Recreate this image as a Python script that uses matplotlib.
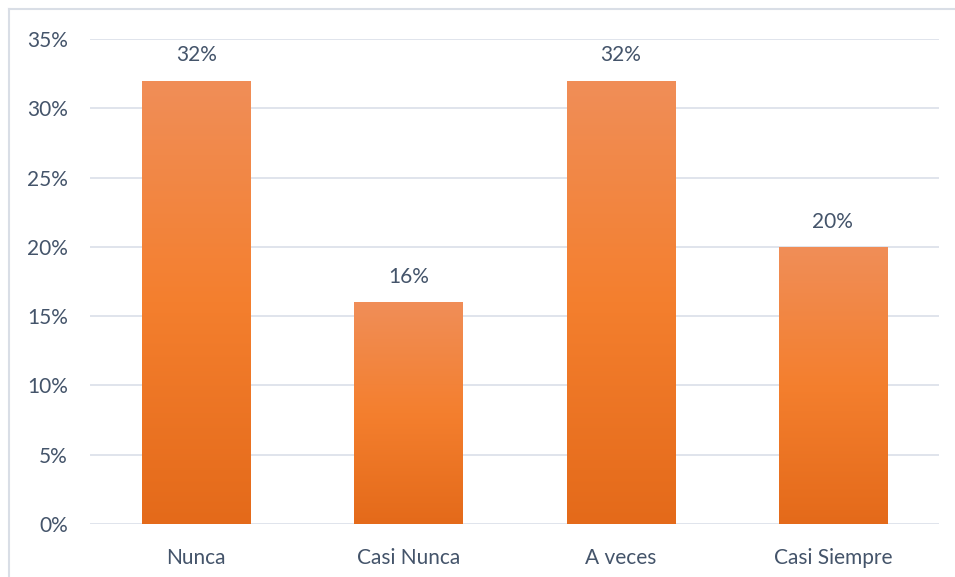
import matplotlib
matplotlib.use("Agg")
import matplotlib.pyplot as plt
import numpy as np
from matplotlib.colors import LinearSegmentedColormap
from matplotlib.lines import Line2D

categories = ["Nunca", "Casi Nunca", "A veces", "Casi Siempre"]
values = [0.32, 0.16, 0.32, 0.20]
labels = ["32%", "16%", "32%", "20%"]
yticks = [0, 0.05, 0.10, 0.15, 0.20, 0.25, 0.30, 0.35]
ytick_labels = ["0%", "5%", "10%", "15%", "20%", "25%", "30%", "35%"]

W, H = 955, 577
fig = plt.figure(figsize=(W / 100, H / 100), dpi=100)
plt.rcParams['font.family'] = ['Lato', 'DejaVu Sans']
text_color = "#44546A"
fs = 15

ax = fig.add_axes([90 / W, (H - 524) / H, (939 - 90) / W, (524 - 39) / H])
ax.set_xlim(-0.5, 3.5)
ax.set_ylim(0, 0.35)
ax.set_yticks(yticks)
ax.set_yticklabels(ytick_labels, fontsize=fs, color=text_color)
ax.set_xticks(range(len(categories)))
ax.set_xticklabels(categories, fontsize=fs, color=text_color)
ax.tick_params(axis='both', length=0)
ax.tick_params(axis='y', pad=16)
ax.tick_params(axis='x', pad=17)
for s in ax.spines.values():
    s.set_visible(False)
ax.grid(axis='y', color="#DDE2EA", linewidth=1.3)
ax.set_axisbelow(True)

cmap = LinearSegmentedColormap.from_list(
    "og", [(0.0, "#E46A1A"), (0.5, "#F47F2E"), (1.0, "#F08E58")])
grad = np.linspace(0, 1, 256).reshape(-1, 1)

bars = ax.bar(range(len(categories)), values, width=0.51, color="none", edgecolor="none", zorder=2)
for bar, lab in zip(bars, labels):
    x0, y0 = bar.get_x(), bar.get_y()
    w, h = bar.get_width(), bar.get_height()
    im = ax.imshow(grad, cmap=cmap, aspect='auto', origin='lower',
                   extent=[x0, x0 + w, y0, y0 + h], zorder=2, interpolation='bilinear')
    im.set_clip_path(bar)
    ax.annotate(lab, (x0 + w / 2, h), xytext=(0, 11), textcoords='offset points',
                ha='center', va='bottom', fontsize=fs, color=text_color)
ax.set_xlim(-0.5, 3.5)
ax.set_ylim(0, 0.35)

border = "#D9DEE6"
fig.add_artist(Line2D([8.5 / W, 8.5 / W], [0, (H - 9) / H], color=border, linewidth=1.5))
fig.add_artist(Line2D([8.5 / W, 1], [(H - 9) / H, (H - 9) / H], color=border, linewidth=1.5))

fig.savefig("out.png", dpi=100)
